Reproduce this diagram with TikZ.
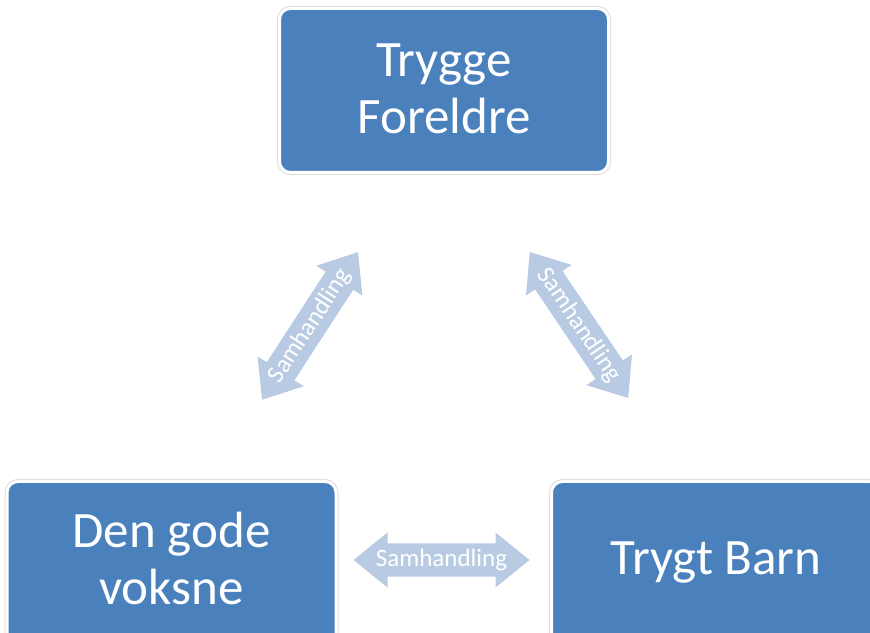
\documentclass[tikz,border=0pt]{standalone}
\usepackage{fontspec}
\setmainfont{Carlito}
\definecolor{boxblue}{HTML}{4A81BD}
\definecolor{arrowblue}{HTML}{B9CBE3}
\definecolor{rimgray}{HTML}{DCDCDC}
\tikzset{
  box/.style={fill=boxblue, draw=white, line width=3pt, rounded corners=11pt,
    preaction={draw=rimgray, line width=5pt},
    minimum width=329pt, minimum height=164pt, inner sep=0pt},
  boxtext/.style={text=white, align=center, inner sep=0pt, font=\fontsize{51}{57}\selectfont},
  arrowtext/.style={text=white, inner sep=0pt, font=\fontsize{25}{28}\selectfont},
  arrowshape/.style={fill=arrowblue}
}
\newcommand\samarrow[4]{%
  \begin{scope}[shift={(#2,#3)}, rotate=#4]
    \fill[arrowshape] (-88,0) -- (-54,27.5) -- (-54,16.5) -- (54,16.5) -- (54,27.5)
      -- (88,0) -- (54,-27.5) -- (54,-16.5) -- (-54,-16.5) -- (-54,-27.5) -- cycle;
    \node[arrowtext, rotate=#4] (#1) at (0,0) {Samhandling};
  \end{scope}}
\begin{document}
\begin{tikzpicture}[x=1pt,y=1pt]
  \useasboundingbox (0,0) rectangle (870,632);
  \begin{scope}
    \clip (0,0) rectangle (870,632);
    \node[box] (foreldre) at (444,541.5) {};
    \node[box] (voksne) at (171.5,68.5) {};
    \node[box] (barn) at (716,68.5) {};
  \end{scope}
  \node[boxtext] (foreldretext) at ([yshift=2pt]foreldre.center) {Trygge\\Foreldre};
  \node[boxtext] (voksnetext) at ([yshift=5pt]voksne.center) {Den gode\\voksne};
  \node[boxtext] (barntext) at ([yshift=1pt]barn.center) {Trygt Barn};
  \samarrow{samleft}{310}{306}{57}
  \samarrow{samright}{579}{307}{-56}
  \samarrow{sambottom}{441.5}{72}{0}
\end{tikzpicture}
\end{document}
